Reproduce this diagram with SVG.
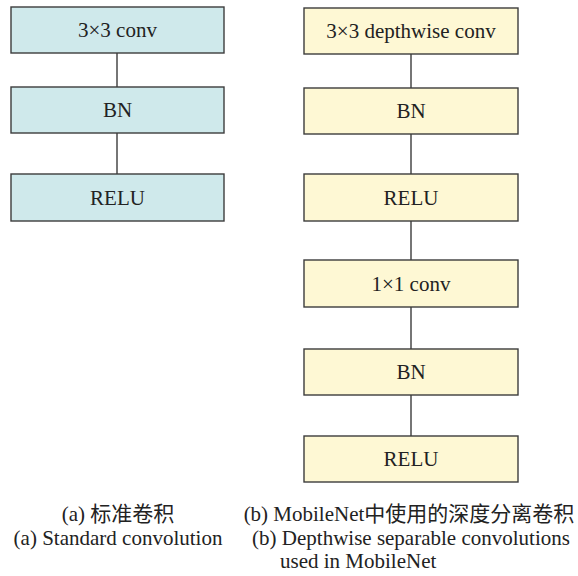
<svg xmlns="http://www.w3.org/2000/svg" width="578" height="576" viewBox="0 0 578 576">
<style>
  .a rect{fill:#cfe9eb;stroke:#3c3c3c;stroke-width:1.4}
  .b rect{fill:#fef8d4;stroke:#3c3c3c;stroke-width:1.4}
  #connectors line{stroke:#3c3c3c;stroke-width:1.4}
</style>
<rect width="578" height="576" fill="#fff"/>
<g id="connectors">
  <line x1="117" y1="53" x2="117" y2="87"/>
  <line x1="117" y1="133" x2="117" y2="174"/>
  <line x1="411" y1="54" x2="411" y2="88"/>
  <line x1="411" y1="134" x2="411" y2="174"/>
  <line x1="411" y1="221" x2="411" y2="260"/>
  <line x1="411" y1="307" x2="411" y2="349"/>
  <line x1="411" y1="395" x2="411" y2="436"/>
</g>
<g font-family="Liberation Serif, Times New Roman, serif" font-size="21" fill="#222" text-anchor="middle">
<g id="a1" class="a"><rect x="11" y="7" width="213" height="46"/><text x="117.5" y="37">3×3 conv</text></g>
<g id="a2" class="a"><rect x="11" y="87" width="213" height="46"/><text x="117.5" y="117">BN</text></g>
<g id="a3" class="a"><rect x="11" y="174" width="213" height="47"/><text x="117.5" y="205">RELU</text></g>
<g id="b1" class="b"><rect x="304" y="8" width="214" height="46"/><text x="411" y="38">3×3 depthwise conv</text></g>
<g id="b2" class="b"><rect x="304" y="88" width="214" height="46"/><text x="411" y="118">BN</text></g>
<g id="b3" class="b"><rect x="304" y="174" width="214" height="47"/><text x="411" y="205">RELU</text></g>
<g id="b4" class="b"><rect x="304" y="260" width="214" height="47"/><text x="411" y="291">1×1 conv</text></g>
<g id="b5" class="b"><rect x="304" y="349" width="214" height="46"/><text x="411" y="379">BN</text></g>
<g id="b6" class="b"><rect x="304" y="436" width="214" height="46"/><text x="411" y="466">RELU</text></g>
<g id="captions">
  <text x="118" y="521">(a) <tspan font-family="Noto Sans CJK SC, sans-serif">标准卷积</tspan></text>
  <text x="118" y="545">(a) Standard convolution</text>
  <text x="409" y="521">(b) MobileNet<tspan font-family="Noto Sans CJK SC, sans-serif">中使用的深度分离卷积</tspan></text>
  <text x="411" y="545">(b) Depthwise separable convolutions</text>
  <text x="280" y="568" text-anchor="start">used in MobileNet</text>
</g>
</g>
</svg>
